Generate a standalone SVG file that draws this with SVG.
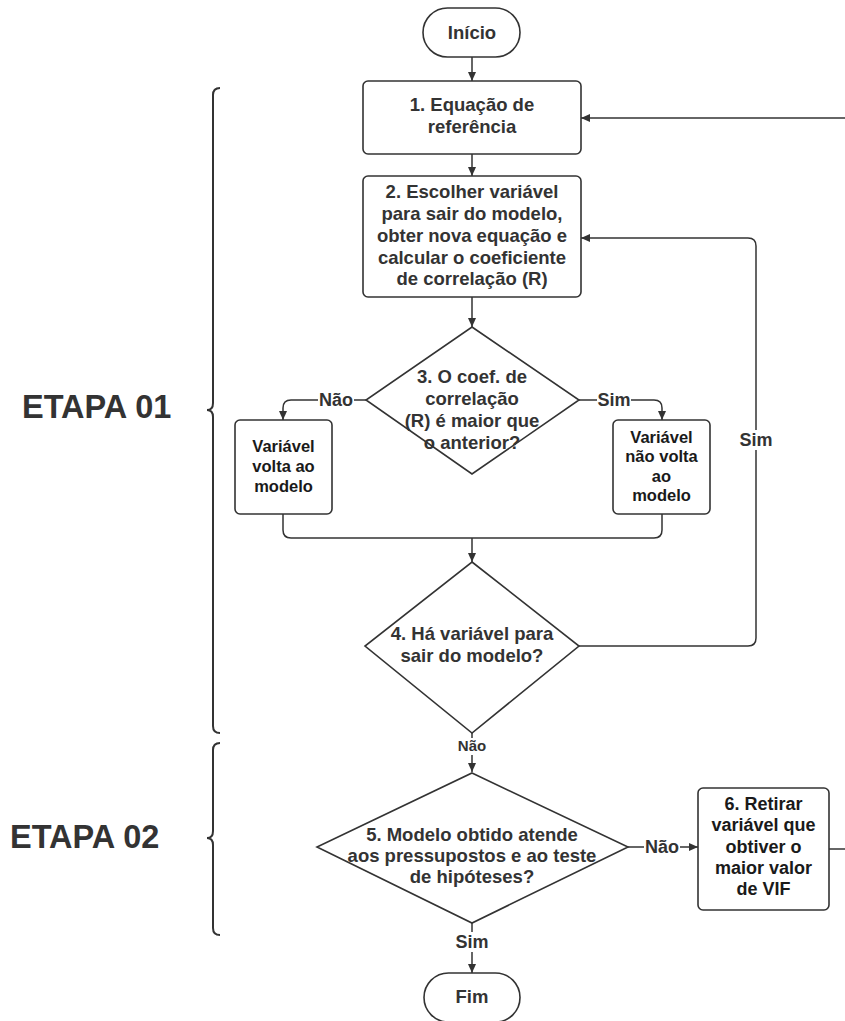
<svg xmlns="http://www.w3.org/2000/svg" width="845" height="1021" viewBox="0 0 845 1021">
<style>
  .shape { fill: #ffffff; stroke: #333333; stroke-width: 1.6; }
  .t { font-family: "Liberation Sans", Arial, sans-serif; font-weight: bold; font-size: 18.5px; fill: #333333; text-anchor: middle; }
  .ts { font-family: "Liberation Sans", Arial, sans-serif; font-weight: bold; font-size: 16.5px; fill: #1a1a1a; text-anchor: middle; }
  .tb { font-family: "Liberation Sans", Arial, sans-serif; font-weight: bold; font-size: 18px; fill: #1a1a1a; text-anchor: middle; }
  .lbl { font-family: "Liberation Sans", Arial, sans-serif; font-weight: bold; font-size: 18px; fill: #333333; text-anchor: middle; }
  .etapa { font-family: "Liberation Sans", Arial, sans-serif; font-weight: bold; font-size: 32.5px; fill: #333333; }
  .conn { fill: none; stroke: #333333; stroke-width: 1.5; }
  .brace { fill: none; stroke: #333333; stroke-width: 2; }
  .bg { fill: #ffffff; }
</style>
<defs>
  <marker id="arrow" markerUnits="userSpaceOnUse" markerWidth="9" markerHeight="8" refX="9" refY="4" orient="auto">
    <path d="M0,0 L9,4 L0,8 z" fill="#333333"/>
  </marker>
</defs>

<!-- Stage labels and braces -->
<g id="etapa01">
  <text class="etapa" x="22" y="418">ETAPA 01</text>
  <path class="brace" d="M220,88 Q213,88 213,95 L213,403 Q213,410 207,410 Q213,410 213,417 L213,726 Q213,733 220,733"/>
</g>
<g id="etapa02">
  <text class="etapa" x="10" y="848">ETAPA 02</text>
  <path class="brace" d="M220,743 Q213,743 213,750 L213,831 Q213,838 207,838 Q213,838 213,845 L213,928 Q213,935 220,935"/>
</g>

<!-- Connectors -->
<g id="connectors">
  <line class="conn" x1="472" y1="57" x2="472" y2="81" marker-end="url(#arrow)"/>
  <line class="conn" x1="472" y1="154" x2="472" y2="176" marker-end="url(#arrow)"/>
  <line class="conn" x1="472" y1="297" x2="472" y2="327" marker-end="url(#arrow)"/>
  <line class="conn" x1="845" y1="118" x2="581" y2="118" marker-end="url(#arrow)"/>
  <!-- Diamond 3 No -->
  <path class="conn" d="M366,400 L291,400 Q283,400 283,408 L283,420" marker-end="url(#arrow)"/>
  <!-- Diamond 3 Yes -->
  <path class="conn" d="M579,400 L654,400 Q662,400 662,408 L662,420" marker-end="url(#arrow)"/>
  <!-- Merge -->
  <path class="conn" d="M283,514 L283,530 Q283,538 291,538 L654,538 Q662,538 662,530 L662,514"/>
  <line class="conn" x1="472" y1="538" x2="472" y2="562" marker-end="url(#arrow)"/>
  <!-- Loop Sim -->
  <path class="conn" d="M579,646 L748,646 Q756,646 756,638 L756,246 Q756,238 748,238 L581,238" marker-end="url(#arrow)"/>
  <!-- Diamond 4 Não -->
  <line class="conn" x1="472" y1="733" x2="472" y2="772" marker-end="url(#arrow)"/>
  <!-- Diamond 5 Não -->
  <line class="conn" x1="628" y1="847" x2="698" y2="847" marker-end="url(#arrow)"/>
  <!-- Diamond 5 Sim -->
  <line class="conn" x1="472" y1="923" x2="472" y2="973" marker-end="url(#arrow)"/>
  <!-- Box 6 out -->
  <line class="conn" x1="829" y1="849" x2="845" y2="849"/>

  <!-- labels -->
  <rect class="bg" x="318" y="391" width="36" height="19"/>
  <text class="lbl" x="336" y="406">Não</text>
  <rect class="bg" x="597" y="391" width="34" height="19"/>
  <text class="lbl" x="614" y="406">Sim</text>
  <rect class="bg" x="739" y="430" width="34" height="20"/>
  <text class="lbl" x="756" y="446">Sim</text>
  <rect class="bg" x="458" y="738" width="28" height="17"/>
  <text class="lbl" x="472" y="751" style="font-size:15px">Não</text>
  <rect class="bg" x="644" y="838" width="36" height="19"/>
  <text class="lbl" x="662" y="853">Não</text>
  <rect class="bg" x="455" y="932" width="34" height="20"/>
  <text class="lbl" x="472" y="948">Sim</text>
</g>

<!-- Nodes -->
<g id="inicio">
  <rect class="shape" x="423" y="8" width="97" height="49" rx="24.5"/>
  <text class="t" x="472" y="39">Início</text>
</g>
<g id="n1">
  <rect class="shape" x="363" y="81" width="218" height="73" rx="5"/>
  <text class="t" x="472" y="111">1. Equação de</text>
  <text class="t" x="472" y="133">referência</text>
</g>
<g id="n2">
  <rect class="shape" x="363" y="176" width="218" height="121" rx="5"/>
  <text class="t" x="472" y="198">2. Escolher variável</text>
  <text class="t" x="472" y="220">para sair do modelo,</text>
  <text class="t" x="472" y="242">obter nova equação e</text>
  <text class="t" x="472" y="263.5">calcular o coeficiente</text>
  <text class="t" x="472" y="285">de correlação (R)</text>
</g>
<g id="n3">
  <path class="shape" d="M472,327 L579,400 L472,474 L366,400 Z"/>
  <text class="t" x="472" y="383">3. O coef. de</text>
  <text class="t" x="472" y="405">correlação</text>
  <text class="t" x="472" y="427">(R) é maior que</text>
  <text class="t" x="472" y="449">o anterior?</text>
</g>
<g id="volta">
  <rect class="shape" x="235" y="420" width="97" height="94" rx="5"/>
  <text class="ts" x="283.5" y="451.5">Variável</text>
  <text class="ts" x="283.5" y="472">volta ao</text>
  <text class="ts" x="283.5" y="492">modelo</text>
</g>
<g id="naovolta">
  <rect class="shape" x="613" y="420" width="97" height="94" rx="5"/>
  <text class="ts" x="661.5" y="442.5">Variável</text>
  <text class="ts" x="661.5" y="462">não volta</text>
  <text class="ts" x="661.5" y="481.5">ao</text>
  <text class="ts" x="661.5" y="501">modelo</text>
</g>
<g id="n4">
  <path class="shape" d="M472,562 L579,646 L472,733 L365,646 Z"/>
  <text class="t" x="472" y="640">4. Há variável para</text>
  <text class="t" x="472" y="662">sair do modelo?</text>
</g>
<g id="n5">
  <path class="shape" d="M472,773 L628,847 L472,923 L317,847 Z"/>
  <text class="t" x="472" y="841">5. Modelo obtido atende</text>
  <text class="t" x="472" y="862">aos pressupostos e ao teste</text>
  <text class="t" x="472" y="883">de hipóteses?</text>
</g>
<g id="n6">
  <rect class="shape" x="698" y="788" width="131" height="122" rx="5"/>
  <text class="tb" x="763.5" y="810">6. Retirar</text>
  <text class="tb" x="763.5" y="831">variável que</text>
  <text class="tb" x="763.5" y="853">obtiver o</text>
  <text class="tb" x="763.5" y="874">maior valor</text>
  <text class="tb" x="763.5" y="895">de VIF</text>
</g>
<g id="fim">
  <rect class="shape" x="424" y="973" width="96" height="49" rx="24.5"/>
  <text class="t" x="472" y="1003">Fim</text>
</g>
</svg>
